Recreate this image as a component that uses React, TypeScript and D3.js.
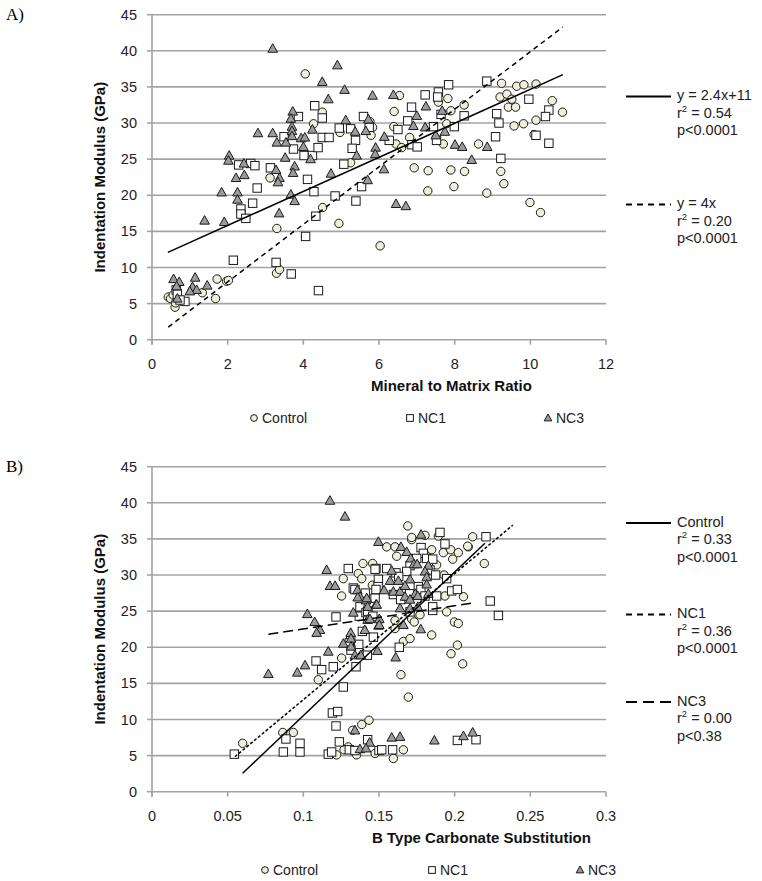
import React from "react";
import * as d3 from "d3";

type Pt = [number, number];

// ---------- Panel A data (Mineral to Matrix Ratio vs Indentation Modulus) ----------
const aControl: Pt[] = [
  [4.05,36.8],[4.5,31.5],[4.27,29.9],[4.97,28.7],[5.25,24.5],[5.83,29.4],[5.79,28.3],[3.12,22.4],[3.3,15.4],
  [4.51,18.3],[4.94,16.1],[6.03,13.0],[3.29,9.2],[3.37,9.7],[1.72,8.4],[1.97,8.1],[2.02,8.2],[1.68,5.7],[1.33,6.5],
  [0.43,5.9],[0.49,5.7],[0.61,4.5],[0.62,5.1],[0.56,6.2],[6.54,33.8],[6.4,31.6],[7.57,32.9],[7.82,33.4],[9.24,35.5],
  [9.64,35.1],[9.83,35.3],[10.15,35.4],[9.2,33.6],[9.38,34.0],[9.51,33.3],[9.42,32.2],[9.61,32.2],[10.58,33.1],
  [10.85,31.5],[10.15,30.4],[9.82,29.9],[9.57,29.6],[10.1,28.4],[8.63,27.1],[9.22,23.3],[9.3,21.6],[8.85,20.3],
  [9.99,19.0],[8.26,23.3],[7.9,23.5],[7.98,21.2],[7.3,23.4],[6.93,23.8],[7.29,20.6],[8.25,32.5],[7.9,31.7],
  [7.79,29.9],[7.7,27.1],[6.81,28.0],[6.39,29.5],[6.45,27.1],[6.6,26.6],[10.27,17.6],[5.76,30.2]
];
const aNC1: Pt[] = [
  [4.3,32.4],[4.5,30.7],[3.87,30.9],[3.49,28.1],[3.74,26.4],[4.02,25.5],[4.24,25.5],[4.39,26.6],[4.5,28.0],[4.68,28.0],
  [4.95,29.3],[5.25,29.2],[5.38,27.6],[5.29,26.5],[5.07,24.3],[5.59,30.9],[5.74,29.4],[4.11,22.2],[4.28,20.5],
  [3.13,23.8],[2.29,24.2],[2.61,24.4],[2.72,24.1],[2.78,21.0],[2.66,18.9],[4.84,19.9],[5.39,19.2],[5.54,21.2],
  [2.35,18.1],[2.35,17.4],[2.48,16.8],[4.06,14.3],[4.33,17.1],[2.15,11.0],[3.28,10.7],[3.68,9.1],[4.4,6.8],
  [0.64,6.9],[0.67,6.3],[0.87,5.3],[0.74,5.5],[7.22,33.9],[7.57,34.3],[7.55,33.6],[7.84,35.3],[8.85,35.8],
  [9.96,33.3],[10.49,31.8],[10.4,30.9],[10.15,28.3],[10.49,27.2],[9.08,28.1],[9.11,31.3],[9.17,30.0],[9.22,25.1],
  [8.25,31.0],[7.99,29.5],[7.64,31.2],[7.52,27.6],[7.44,29.5],[6.86,32.2],[6.76,30.3],[6.5,29.1],[6.27,27.6],
  [6.87,27.0],[7.01,26.7]
];
const aNC3: Pt[] = [
  [3.19,40.3],[4.5,35.7],[4.9,38.0],[5.09,34.6],[5.83,33.8],[4.66,33.3],[3.72,31.6],[3.67,30.6],[3.7,29.5],[3.7,28.9],
  [2.8,28.6],[3.19,28.6],[3.3,27.3],[3.54,27.3],[3.7,28.2],[3.94,27.9],[4.04,28.0],[4.0,26.7],[4.24,29.1],[4.19,25.0],
  [5.12,30.4],[5.37,28.8],[5.41,25.5],[5.72,30.5],[5.65,28.9],[5.91,26.6],[5.9,25.7],[4.73,23.0],[3.77,24.0],
  [3.73,23.1],[3.52,25.2],[3.28,23.5],[3.37,22.4],[3.33,21.8],[2.04,25.5],[2.02,24.8],[2.43,24.4],[2.22,22.4],
  [2.44,22.8],[1.84,20.4],[2.26,20.4],[2.26,19.4],[3.67,20.1],[3.77,19.2],[5.7,22.1],[1.39,16.5],[1.91,16.3],
  [3.36,17.5],[1.14,8.6],[1.07,7.3],[1.18,6.9],[1.46,7.5],[1.0,6.7],[0.57,8.4],[0.72,8.0],[0.65,7.4],[0.67,5.7],
  [6.38,33.9],[7.67,31.7],[7.5,28.3],[7.74,28.8],[7.22,29.4],[7.24,32.3],[7.0,31.0],[6.91,29.6],[6.14,28.1],
  [6.13,23.6],[8.86,26.7],[8.45,24.9],[8.01,27.0],[8.2,26.7],[6.45,18.8],[6.71,18.5]
];

// ---------- Panel B data (B Type Carbonate Substitution vs Indentation Modulus) ----------
const bControl: Pt[] = [
  [0.1264,29.5],[0.1253,27.1],[0.1363,30.2],[0.1386,29.5],[0.1458,31.6],[0.1394,31.6],[0.1456,28.6],[0.1551,33.9],
  [0.1606,33.9],[0.1716,34.9],[0.1848,33.5],[0.1925,33.1],[0.1974,33.5],[0.2024,33.1],[0.209,33.9],[0.1987,32.2],
  [0.2196,31.6],[0.1617,32.6],[0.1881,31.4],[0.193,30.0],[0.1936,27.1],[0.2058,27.0],[0.1606,23.7],[0.1606,22.6],
  [0.1716,23.9],[0.1733,23.5],[0.1771,24.5],[0.1848,21.7],[0.1947,24.9],[0.1998,23.5],[0.2024,23.3],[0.1253,18.5],
  [0.1099,15.5],[0.1661,20.8],[0.1705,21.2],[0.2018,20.3],[0.1976,19.1],[0.2053,17.7],[0.1645,16.2],[0.1694,13.1],
  [0.1326,8.5],[0.1386,9.3],[0.1434,9.9],[0.1297,6.2],[0.1269,5.8],[0.122,5.1],[0.1352,5.1],[0.1474,5.3],[0.0599,6.7],
  [0.0864,8.2],[0.0934,8.2],[0.1595,4.6],[0.1661,5.8],[0.169,36.8],[0.1716,35.2],[0.1804,35.5],[0.1892,35.4],
  [0.2119,35.3],[0.2086,34.0]
];
const bNC1: Pt[] = [
  [0.1297,30.9],[0.148,30.9],[0.133,28.2],[0.1374,25.6],[0.1474,26.8],[0.137,24.3],[0.1414,24.8],[0.1216,24.2],
  [0.139,22.2],[0.1778,33.8],[0.1793,33.0],[0.1936,34.3],[0.1749,32.3],[0.1815,32.3],[0.1855,32.2],[0.1705,31.3],
  [0.1837,30.7],[0.1474,30.8],[0.1496,29.4],[0.1494,28.4],[0.1551,30.9],[0.1612,30.3],[0.1683,30.5],[0.163,29.8],
  [0.1874,30.0],[0.1947,29.5],[0.176,28.4],[0.1341,28.0],[0.1409,27.5],[0.148,28.0],[0.1595,27.3],[0.1702,27.4],
  [0.1777,28.0],[0.1804,27.1],[0.1881,27.1],[0.198,27.8],[0.2018,28.0],[0.1425,25.0],[0.1459,24.3],[0.1643,26.6],
  [0.1705,24.9],[0.1855,25.1],[0.2235,26.4],[0.1313,21.0],[0.1463,21.4],[0.1304,20.6],[0.1366,20.4],[0.1315,19.6],
  [0.1423,18.9],[0.1084,18.1],[0.1121,16.9],[0.1198,17.3],[0.1348,17.3],[0.1634,20.0],[0.1264,14.5],[0.1192,10.9],
  [0.1227,11.1],[0.1216,9.1],[0.1238,6.9],[0.1425,7.2],[0.1304,5.8],[0.1165,5.2],[0.1187,5.5],[0.1341,5.7],
  [0.150,5.7],[0.0544,5.2],[0.0885,7.3],[0.0868,5.5],[0.0978,6.7],[0.0978,5.5],[0.1518,5.8],[0.159,5.8],
  [0.2018,7.1],[0.2141,7.2],[0.1903,35.9],[0.2207,35.3],[0.2289,24.4],[0.1855,25.6]
];
const bNC3: Pt[] = [
  [0.1176,40.3],[0.1275,38.1],[0.1496,34.6],[0.1154,30.7],[0.1176,28.5],[0.121,28.5],[0.1357,27.9],[0.1375,27.0],
  [0.1414,26.5],[0.148,25.9],[0.133,24.8],[0.1425,23.8],[0.1026,24.6],[0.1075,23.5],[0.111,22.4],[0.1088,22.0],
  [0.1497,23.0],[0.1313,22.0],[0.1645,33.9],[0.1683,33.2],[0.171,32.3],[0.1731,31.5],[0.1752,31.5],[0.1826,31.3],
  [0.1584,30.6],[0.1573,29.2],[0.1628,29.2],[0.1705,29.4],[0.1804,30.5],[0.1815,29.7],[0.1815,28.7],[0.1359,26.9],
  [0.1419,26.8],[0.1533,27.9],[0.1595,27.7],[0.1639,27.7],[0.1672,28.5],[0.1672,27.0],[0.174,27.4],[0.1705,26.6],
  [0.1756,27.1],[0.1826,27.4],[0.1425,25.6],[0.1485,25.9],[0.144,23.9],[0.1502,23.9],[0.1502,23.1],[0.1639,25.4],
  [0.1705,25.4],[0.1756,25.6],[0.1661,23.1],[0.1776,22.5],[0.1315,21.2],[0.1406,22.4],[0.1264,20.5],[0.1315,20.1],
  [0.1341,18.9],[0.1379,18.9],[0.1489,19.5],[0.1165,19.4],[0.1011,17.5],[0.096,16.5],[0.161,18.6],[0.0769,16.3],
  [0.1341,8.5],[0.1438,6.8],[0.1374,5.9],[0.1414,6.0],[0.1584,7.5],[0.1639,7.6],[0.1866,7.1],[0.2058,7.7],
  [0.2119,8.2],[0.1778,35.6]
];

// Trend lines (endpoints)
const aTrendSolid: Pt[] = [[0.42, 12.1], [10.86, 36.7]];
const aTrendDashed: Pt[] = [[0.43, 1.75], [10.86, 43.3]];
const bTrendControl: Pt[] = [[0.0599, 2.55], [0.22, 34.4]];
const bTrendNC1: Pt[] = [[0.0548, 4.85], [0.2384, 36.9]];
const bTrendNC3: Pt[] = [[0.0769, 21.8], [0.2113, 26.1]];

// Ticks
const yTicks = [0, 5, 10, 15, 20, 25, 30, 35, 40, 45];
const aXTicks = [0, 2, 4, 6, 8, 10, 12];
const bXTicks = [0, 0.05, 0.1, 0.15, 0.2, 0.25, 0.3];

// Legend / annotation text
const seriesNames = ["Control", "NC1", "NC3"];
const aNotes = [
  ["y = 2.4x+11", "0.54", "p<0.0001"],
  ["y = 4x", "0.20", "p<0.0001"],
];
const bNotes = [
  ["Control", "0.33", "p<0.0001"],
  ["NC1", "0.36", "p<0.0001"],
  ["NC3", "0.00", "p<0.38"],
];

const FONT = "'Liberation Sans', Arial, sans-serif";
const GRID = "#a3a3a3";
const CIRCLE_FILL = "#efefdc";
const TRI_FILL = "#9b9b9b";
const STROKE = "#1a1a1a";
const TEXT = "#222";

function Marker({ kind, x, y, s = 1 }: { kind: number; x: number; y: number; s?: number }) {
  if (kind === 0)
    return <circle cx={x} cy={y} r={4.2 * s} fill={CIRCLE_FILL} stroke={STROKE} strokeWidth={1} />;
  if (kind === 1) {
    const h = 4.2 * s;
    return <rect x={x - h} y={y - h} width={2 * h} height={2 * h} fill="#ffffff" stroke={STROKE} strokeWidth={1} />;
  }
  const w = 4.8 * s;
  return (
    <path
      d={`M${x},${y - 5 * s}L${x + w},${y + 3.6 * s}L${x - w},${y + 3.6 * s}Z`}
      fill={TRI_FILL}
      stroke={STROKE}
      strokeWidth={1}
    />
  );
}

type Trend = { pts: Pt[]; dash?: string; width?: number };

function Panel({
  top, label, xDomain, xTicks, xTitle, series, trends, legendY, legendX, notes, noteY, noteDash, xTitleX,
}: {
  top: number; label: string; xDomain: [number, number]; xTicks: number[]; xTitle: string;
  series: Pt[][]; trends: Trend[]; legendY: number; legendX: number[]; notes: string[][]; noteY: number[];
  noteDash: (string | undefined)[]; xTitleX: number;
}) {
  const x = d3.scaleLinear().domain(xDomain).range([152, 606]);
  const y = d3.scaleLinear().domain([0, 45]).range([top + 325, top]);
  const line = d3.line<Pt>().x((d) => x(d[0])).y((d) => y(d[1]));
  return (
    <g>
      <text x={6} y={top + 5} fontFamily="'Liberation Serif', 'Times New Roman', serif" fontSize={17}>{label}</text>
      {yTicks.map((t) => (
        <g key={"g" + t}>
          <line x1={x(xDomain[0])} x2={x(xDomain[1])} y1={y(t)} y2={y(t)} stroke={GRID} strokeWidth={1.6} />
          <line x1={147} x2={152} y1={y(t)} y2={y(t)} stroke={GRID} strokeWidth={1.6} />
          <text x={137} y={y(t)} dy="0.35em" textAnchor="end" fontFamily={FONT} fontSize={14.5} fill={TEXT}>{t}</text>
        </g>
      ))}
      <line x1={152} x2={152} y1={y(45)} y2={y(0) + 5} stroke={GRID} strokeWidth={1.6} />
      {xTicks.map((t) => (
        <g key={"x" + t}>
          <line x1={x(t)} x2={x(t)} y1={y(0)} y2={y(0) + 5} stroke={GRID} strokeWidth={1.6} />
          <text x={x(t)} y={y(0) + 24} dy="0.35em" textAnchor="middle" fontFamily={FONT} fontSize={14.5} fill={TEXT}>{String(t)}</text>
        </g>
      ))}
      <text x={xTitleX} y={y(0) + 46} dy="0.35em" fontFamily={FONT} fontSize={15} fontWeight="bold" fill="#111">{xTitle}</text>
      <text
        transform={`translate(100,${(y(0) + y(45)) / 2}) rotate(-90)`}
        textAnchor="middle" dy="0.35em" fontFamily={FONT} fontSize={15} fontWeight="bold" fill="#111"
      >Indentation Modulus (GPa)</text>
      {series.map((pts, k) => (
        <g key={"s" + k}>
          {pts.map((p, i) => <Marker key={i} kind={k} x={x(p[0])} y={y(p[1])} />)}
        </g>
      ))}
      {trends.map((t, i) => (
        <path key={"t" + i} d={line(t.pts) || ""} fill="none" stroke="#000" strokeWidth={t.width ?? 1.5} strokeDasharray={t.dash} />
      ))}
      {seriesNames.map((n, k) => (
        <g key={"l" + k}>
          <Marker kind={k} x={legendX[k] - 8} y={legendY} s={0.8} />
          <text x={legendX[k]} y={legendY} dy="0.36em" fontFamily={FONT} fontSize={14} fill={TEXT}>{n}</text>
        </g>
      ))}
      {notes.map((n, i) => (
        <g key={"n" + i}>
          <line x1={626} x2={671} y1={noteY[i] + 1.5} y2={noteY[i] + 1.5} stroke="#000" strokeWidth={2} strokeDasharray={noteDash[i]} />
          <text x={677} y={noteY[i]} dy="0.35em" fontFamily={FONT} fontSize={14.5} fill={TEXT}>{n[0]}</text>
          <text x={677} y={noteY[i] + 17.5} dy="0.35em" fontFamily={FONT} fontSize={14.5} fill={TEXT}>
            r<tspan dy={-6} fontSize={9.5}>2</tspan><tspan dy={6}>{" = " + n[1]}</tspan>
          </text>
          <text x={677} y={noteY[i] + 35} dy="0.35em" fontFamily={FONT} fontSize={14.5} fill={TEXT}>{n[2]}</text>
        </g>
      ))}
    </g>
  );
}

export default function App() {
  return (
    <svg width={762} height={881} style={{ position: "absolute", left: 0, top: 0, background: "#fff" }}>
      <rect width={762} height={881} fill="#fff" />
      <Panel
        top={14.7} label="A)" xDomain={[0, 12]} xTicks={aXTicks} xTitle="Mineral to Matrix Ratio" xTitleX={371}
        series={[aControl, aNC1, aNC3]}
        trends={[{ pts: aTrendSolid }, { pts: aTrendDashed, dash: "5,4" }]}
        legendY={418} legendX={[262, 418, 556]}
        notes={aNotes} noteY={[95, 203]} noteDash={[undefined, "6,5"]}
      />
      <Panel
        top={466.7} label="B)" xDomain={[0, 0.3]} xTicks={bXTicks} xTitle="B Type Carbonate Substitution" xTitleX={372}
        series={[bControl, bNC1, bNC3]}
        trends={[
          { pts: bTrendControl },
          { pts: bTrendNC1, dash: "3,2" },
          { pts: bTrendNC3, dash: "10,5" },
        ]}
        legendY={870} legendX={[273, 440, 588]}
        notes={bNotes} noteY={[521.5, 613, 700.5]} noteDash={[undefined, "6,5", "11,6"]}
      />
    </svg>
  );
}
